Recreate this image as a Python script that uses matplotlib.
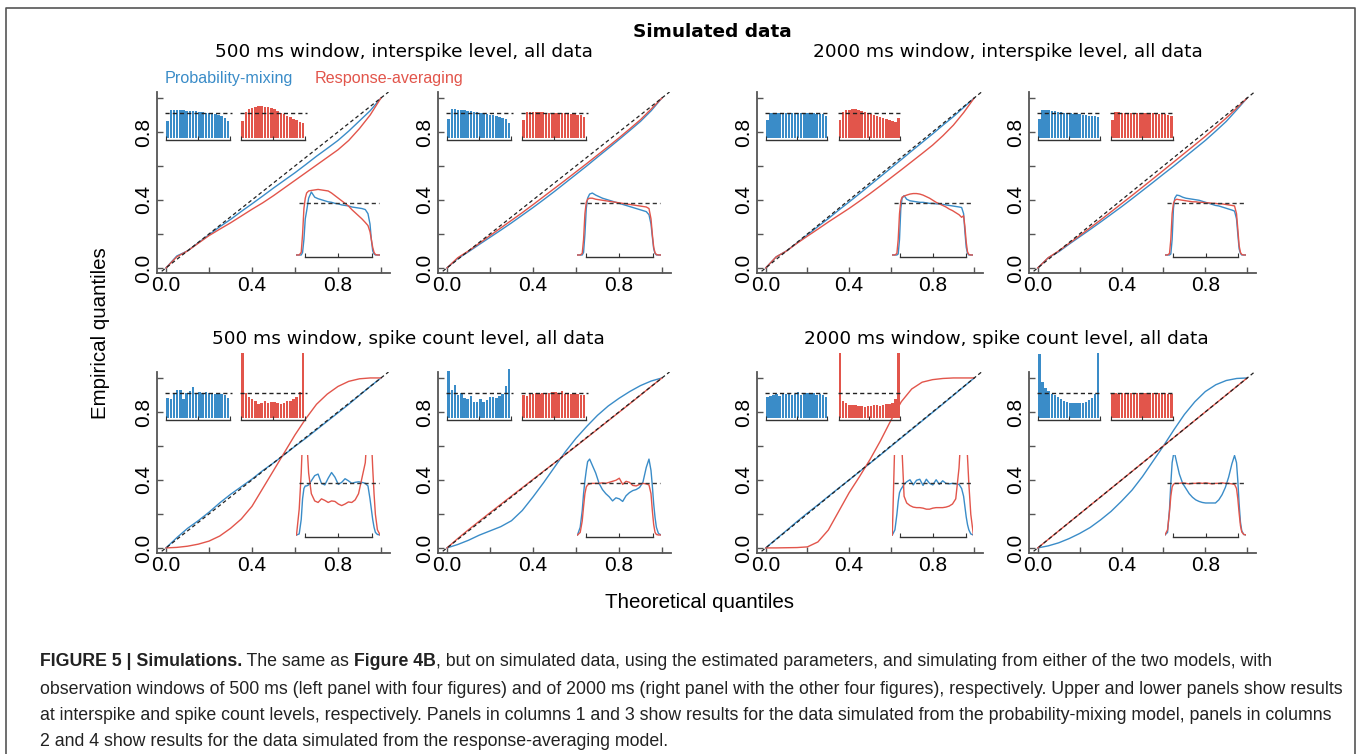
import matplotlib
matplotlib.use('Agg')
import matplotlib.pyplot as plt
from matplotlib.lines import Line2D

plt.rcParams['font.family'] = ['Liberation Sans', 'DejaVu Sans']

W, H = 1360, 754
BLUE = '#3a8cc8'
RED = '#e2554b'

# ---------------- data ----------------
qq_x = [0.0, 0.05, 0.1, 0.15, 0.2, 0.25, 0.3, 0.35, 0.4, 0.45, 0.5,
        0.55, 0.6, 0.65, 0.7, 0.75, 0.8, 0.85, 0.9, 0.95, 1.0]
tick_major = [0.0, 0.4, 0.8]
tick_labels = ['0.0', '0.4', '0.8']
tick_minor = [0.2, 0.6, 1.0]

blue_qq_1 = [0, 0.07, 0.1, 0.148, 0.195, 0.242, 0.285, 0.332, 0.377, 0.423, 0.47, 0.515, 0.56, 0.608, 0.657, 0.703, 0.75, 0.805, 0.865, 0.925, 1.0]
red_qq_1 = [0, 0.065, 0.1, 0.145, 0.19, 0.228, 0.265, 0.305, 0.345, 0.383, 0.425, 0.47, 0.515, 0.56, 0.605, 0.65, 0.695, 0.75, 0.82, 0.9, 1.0]
blue_qq_2 = [0, 0.055, 0.095, 0.138, 0.18, 0.222, 0.265, 0.31, 0.355, 0.402, 0.45, 0.5, 0.55, 0.6, 0.652, 0.703, 0.755, 0.808, 0.862, 0.925, 1.0]
red_qq_2 = [0, 0.06, 0.1, 0.145, 0.19, 0.235, 0.28, 0.325, 0.372, 0.42, 0.468, 0.516, 0.565, 0.614, 0.664, 0.714, 0.765, 0.818, 0.872, 0.935, 1.0]
blue_qq_3 = [0, 0.065, 0.1, 0.147, 0.195, 0.243, 0.29, 0.34, 0.388, 0.437, 0.487, 0.537, 0.587, 0.637, 0.688, 0.738, 0.788, 0.84, 0.89, 0.945, 1.0]
red_qq_3 = [0, 0.065, 0.1, 0.145, 0.187, 0.228, 0.27, 0.31, 0.35, 0.393, 0.437, 0.483, 0.53, 0.577, 0.625, 0.673, 0.722, 0.778, 0.84, 0.915, 1.0]
blue_qq_4 = [0, 0.06, 0.095, 0.14, 0.183, 0.226, 0.27, 0.315, 0.36, 0.407, 0.455, 0.503, 0.552, 0.6, 0.65, 0.7, 0.75, 0.805, 0.862, 0.93, 1.0]
red_qq_4 = [0, 0.06, 0.1, 0.145, 0.19, 0.236, 0.282, 0.33, 0.378, 0.426, 0.475, 0.524, 0.574, 0.624, 0.674, 0.724, 0.774, 0.828, 0.882, 0.94, 1.0]
blue_qq_5 = [0, 0.06, 0.115, 0.16, 0.21, 0.265, 0.315, 0.36, 0.405, 0.455, 0.5, 0.548, 0.598, 0.645, 0.695, 0.745, 0.795, 0.845, 0.898, 0.95, 1.0]
red_qq_5 = [0, 0.003, 0.01, 0.022, 0.04, 0.07, 0.115, 0.17, 0.245, 0.35, 0.455, 0.56, 0.665, 0.76, 0.845, 0.905, 0.95, 0.98, 0.995, 1.0, 1.0]
blue_qq_6 = [0, 0.02, 0.045, 0.075, 0.1, 0.125, 0.16, 0.22, 0.3, 0.385, 0.475, 0.565, 0.645, 0.715, 0.78, 0.835, 0.88, 0.92, 0.955, 0.982, 1.0]
red_qq_6 = [0, 0.055, 0.107, 0.157, 0.207, 0.256, 0.305, 0.354, 0.403, 0.452, 0.5, 0.549, 0.598, 0.648, 0.698, 0.748, 0.798, 0.848, 0.899, 0.95, 1.0]
blue_qq_7 = [0, 0.052, 0.103, 0.155, 0.205, 0.253, 0.303, 0.352, 0.4, 0.449, 0.498, 0.547, 0.597, 0.647, 0.697, 0.747, 0.797, 0.847, 0.898, 0.949, 1.0]
red_qq_7 = [0, 0.0, 0.001, 0.002, 0.006, 0.035, 0.105, 0.215, 0.325, 0.42, 0.52, 0.63, 0.75, 0.86, 0.935, 0.975, 0.99, 0.997, 1.0, 1.0, 1.0]
blue_qq_8 = [0, 0.012, 0.03, 0.055, 0.085, 0.12, 0.165, 0.215, 0.275, 0.34, 0.42, 0.51, 0.6, 0.695, 0.785, 0.86, 0.92, 0.96, 0.985, 0.997, 1.0]
red_qq_8 = [0, 0.05, 0.1, 0.15, 0.2, 0.25, 0.3, 0.35, 0.4, 0.45, 0.5, 0.55, 0.6, 0.65, 0.7, 0.75, 0.8, 0.85, 0.9, 0.95, 1.0]

blue_hist_1 = [0.68, 1.13, 1.13, 1.12, 1.11, 1.10, 1.09, 1.08, 1.07, 1.06, 1.04, 1.02, 1.0, 0.99, 0.97, 0.94, 0.91, 0.87, 0.80, 0.66]
red_hist_1 = [0.68, 1.05, 1.15, 1.2, 1.24, 1.26, 1.26, 1.25, 1.23, 1.2, 1.15, 1.08, 1.0, 0.94, 0.88, 0.82, 0.76, 0.7, 0.62, 0.6]
blue_hist_2 = [0.75, 1.15, 1.15, 1.13, 1.12, 1.1, 1.08, 1.06, 1.04, 1.02, 1.0, 0.98, 0.95, 0.92, 0.9, 0.87, 0.83, 0.8, 0.75, 0.6]
red_hist_2 = [0.72, 1.05, 1.04, 1.03, 1.03, 1.02, 1.02, 1.01, 1.01, 1.0, 1.0, 0.99, 0.99, 0.98, 0.97, 0.96, 0.95, 0.93, 0.9, 0.85]
blue_hist_3 = [0.7, 1.0, 1.01, 1.0, 1.0, 1.0, 1.0, 0.99, 1.0, 0.99, 0.99, 0.99, 0.98, 0.99, 0.98, 0.98, 0.97, 0.97, 0.94, 0.88]
red_hist_3 = [0.7, 1.05, 1.1, 1.13, 1.14, 1.14, 1.12, 1.09, 1.05, 1.0, 0.97, 0.93, 0.88, 0.84, 0.8, 0.76, 0.72, 0.68, 0.62, 0.78]
blue_hist_4 = [0.75, 1.12, 1.12, 1.1, 1.08, 1.06, 1.04, 1.03, 1.01, 1.0, 0.98, 0.97, 0.95, 0.94, 0.92, 0.9, 0.89, 0.87, 0.86, 0.85]
red_hist_4 = [0.72, 1.02, 1.02, 1.01, 1.01, 1.0, 1.0, 1.0, 1.0, 1.0, 0.99, 0.99, 0.98, 0.98, 0.97, 0.96, 0.95, 0.94, 0.92, 0.88]
blue_hist_5 = [0.81, 0.74, 0.94, 1.13, 1.13, 0.74, 1.0, 1.06, 1.22, 0.94, 1.04, 1.0, 1.03, 1.0, 0.97, 0.97, 0.96, 0.94, 0.91, 0.81]
red_hist_5 = [3.2, 1.0, 0.84, 0.74, 0.68, 0.55, 0.61, 0.68, 0.58, 0.64, 0.64, 0.61, 0.55, 0.61, 0.68, 0.68, 0.74, 0.84, 1.04, 3.4]
blue_hist_6 = [1.88, 1.13, 1.32, 0.9, 1.0, 0.81, 0.74, 0.87, 0.64, 0.64, 0.74, 0.64, 0.71, 0.83, 0.83, 0.81, 0.87, 0.94, 1.26, 1.95]
red_hist_6 = [0.9, 0.88, 0.95, 0.97, 0.98, 0.97, 0.98, 0.97, 1.0, 1.02, 1.05, 0.98, 1.08, 0.97, 1.0, 0.96, 0.98, 0.95, 0.93, 0.92]
blue_hist_7 = [0.83, 0.88, 0.92, 0.95, 0.88, 1.0, 0.95, 1.0, 0.9, 0.96, 1.02, 0.93, 0.98, 1.0, 0.96, 0.98, 0.93, 0.95, 0.9, 0.85]
red_hist_7 = [3.3, 0.68, 0.58, 0.52, 0.5, 0.5, 0.48, 0.48, 0.45, 0.48, 0.48, 0.5, 0.5, 0.48, 0.52, 0.55, 0.57, 0.61, 0.77, 3.3]
blue_hist_8 = [2.55, 1.42, 1.2, 1.06, 0.96, 0.9, 0.83, 0.74, 0.68, 0.64, 0.58, 0.61, 0.58, 0.61, 0.61, 0.64, 0.7, 0.78, 0.94, 3.0]
red_hist_8 = [0.95, 0.98, 0.97, 0.98, 1.0, 0.98, 0.99, 1.0, 0.98, 1.0, 0.99, 1.0, 0.98, 1.0, 1.0, 0.99, 0.98, 1.0, 0.97, 0.95]

dens_x = [-0.12, -0.08, -0.05, -0.03, -0.01, 0.01, 0.03, 0.06, 0.1, 0.15, 0.2, 0.25, 0.3, 0.35, 0.4, 0.45,
          0.5, 0.55, 0.6, 0.65, 0.7, 0.75, 0.8, 0.85, 0.9, 0.94, 0.97, 0.99, 1.01, 1.03, 1.05, 1.08, 1.12]

blue_dens_1 = [0, 0, 0, 0.05, 0.3, 0.7, 0.85, 1.1, 1.22, 1.12, 1.09, 1.07, 1.05, 1.03, 1.02, 1.0, 0.99, 0.97, 0.96, 0.95, 0.93, 0.92, 0.91, 0.9, 0.88, 0.8, 0.6, 0.3, 0.08, 0.02, 0, 0, 0]
red_dens_1 = [0, 0, 0.05, 0.4, 0.9, 1.1, 1.2, 1.24, 1.25, 1.26, 1.27, 1.26, 1.25, 1.24, 1.2, 1.15, 1.1, 1.05, 1.0, 0.95, 0.88, 0.82, 0.76, 0.7, 0.63, 0.57, 0.45, 0.3, 0.15, 0.05, 0.01, 0, 0]
blue_dens_2 = [0, 0, 0, 0.05, 0.4, 0.9, 1.1, 1.18, 1.2, 1.16, 1.13, 1.1, 1.08, 1.06, 1.04, 1.02, 1.0, 0.98, 0.96, 0.94, 0.92, 0.9, 0.88, 0.86, 0.84, 0.78, 0.6, 0.35, 0.12, 0.03, 0, 0, 0]
red_dens_2 = [0, 0, 0.03, 0.3, 0.8, 1.02, 1.08, 1.1, 1.1, 1.08, 1.07, 1.06, 1.05, 1.04, 1.03, 1.02, 1.01, 1.0, 0.99, 0.98, 0.97, 0.96, 0.95, 0.94, 0.93, 0.9, 0.7, 0.4, 0.15, 0.04, 0.01, 0, 0]
blue_dens_3 = [0, 0, 0, 0.02, 0.3, 0.9, 1.1, 1.15, 1.08, 1.05, 1.04, 1.03, 1.02, 1.02, 1.01, 1.0, 1.0, 0.99, 0.99, 0.98, 0.97, 0.96, 0.95, 0.94, 0.93, 0.92, 0.8, 0.45, 0.15, 0.03, 0, 0, 0]
red_dens_3 = [0, 0, 0.03, 0.3, 0.8, 1.05, 1.12, 1.14, 1.16, 1.18, 1.19, 1.19, 1.18, 1.16, 1.13, 1.1, 1.06, 1.02, 0.99, 0.96, 0.93, 0.89, 0.86, 0.82, 0.78, 0.73, 0.76, 0.55, 0.25, 0.06, 0.01, 0, 0]
blue_dens_4 = [0, 0, 0, 0.02, 0.3, 0.9, 1.1, 1.16, 1.15, 1.12, 1.1, 1.09, 1.08, 1.07, 1.06, 1.04, 1.02, 1.0, 0.98, 0.96, 0.95, 0.93, 0.91, 0.89, 0.87, 0.85, 0.7, 0.4, 0.12, 0.03, 0, 0, 0]
red_dens_4 = [0, 0, 0.03, 0.3, 0.8, 1.0, 1.06, 1.08, 1.07, 1.06, 1.05, 1.04, 1.03, 1.03, 1.02, 1.02, 1.01, 1.01, 1.0, 1.0, 0.99, 0.99, 0.98, 0.97, 0.96, 0.95, 0.8, 0.5, 0.18, 0.05, 0.01, 0, 0]
blue_dens_5 = [0, 0.02, 0.3, 0.7, 0.9, 0.95, 0.95, 0.97, 1.05, 1.15, 1.18, 1.0, 0.97, 1.1, 1.21, 1.12, 0.98, 1.02, 1.09, 1.05, 1.0, 1.02, 1.03, 1.02, 1.0, 0.95, 0.7, 0.5, 0.3, 0.15, 0.05, 0.01, 0]
red_dens_5 = [0, 0.5, 1.2, 1.9, 2.3, 2.3, 1.9, 1.2, 0.8, 0.66, 0.63, 0.7, 0.67, 0.63, 0.66, 0.65, 0.6, 0.57, 0.6, 0.64, 0.63, 0.68, 0.8, 1.1, 1.4, 2.2, 2.4, 1.9, 1.3, 0.8, 0.4, 0.1, 0]
blue_dens_6 = [0, 0.15, 0.47, 0.8, 1.05, 1.25, 1.42, 1.47, 1.35, 1.2, 1.0, 0.88, 0.8, 0.74, 0.66, 0.72, 0.7, 0.65, 0.76, 0.82, 0.86, 0.88, 0.92, 1.02, 1.31, 1.47, 1.25, 0.95, 0.6, 0.34, 0.15, 0.03, 0]
red_dens_6 = [0, 0.05, 0.27, 0.55, 0.8, 0.93, 0.97, 0.99, 1.0, 1.0, 1.0, 1.01, 1.0, 1.02, 1.04, 1.06, 1.1, 0.98, 1.04, 1.02, 0.96, 0.95, 0.98, 1.0, 0.99, 0.97, 0.8, 0.47, 0.2, 0.05, 0.01, 0, 0]
blue_dens_7 = [0, 0.1, 0.4, 0.65, 0.82, 0.88, 0.92, 0.98, 1.03, 1.07, 0.97, 1.06, 1.08, 0.96, 1.08, 1.0, 0.97, 1.07, 0.98, 1.05, 1.0, 0.99, 1.0, 0.99, 0.98, 0.9, 0.75, 0.55, 0.35, 0.2, 0.1, 0.02, 0]
red_dens_7 = [0, 1.9, 2.5, 2.6, 2.4, 2.0, 1.6, 0.75, 0.62, 0.57, 0.54, 0.53, 0.53, 0.52, 0.5, 0.5, 0.52, 0.53, 0.53, 0.53, 0.54, 0.56, 0.6, 0.7, 1.3, 2.2, 2.6, 2.5, 2.0, 1.5, 1.0, 0.4, 0]
blue_dens_8 = [0, 0.05, 0.5, 1.0, 1.4, 1.55, 1.57, 1.4, 1.18, 1.0, 0.9, 0.8, 0.73, 0.68, 0.65, 0.63, 0.62, 0.62, 0.62, 0.62, 0.68, 0.78, 0.92, 1.12, 1.38, 1.54, 1.4, 1.05, 0.6, 0.25, 0.08, 0.01, 0]
red_dens_8 = [0, 0.1, 0.45, 0.75, 0.93, 0.98, 1.0, 1.0, 1.0, 1.01, 1.0, 0.99, 1.0, 1.0, 1.01, 1.0, 1.01, 1.0, 0.99, 1.0, 1.0, 1.01, 1.0, 1.0, 0.99, 0.98, 0.9, 0.7, 0.42, 0.18, 0.06, 0.01, 0]

subtitles = ['500 ms window, interspike level, all data',
             '2000 ms window, interspike level, all data',
             '500 ms window, spike count level, all data',
             '2000 ms window, spike count level, all data']

# ------------- layout (pixels) -------------
panel_left = [157, 438, 757, 1029]
panel_width = [233, 233, 226, 227]
row_top = [92, 372]
row_bottom = [273, 553]

blue_qq = [blue_qq_1, blue_qq_2, blue_qq_3, blue_qq_4, blue_qq_5, blue_qq_6, blue_qq_7, blue_qq_8]
red_qq = [red_qq_1, red_qq_2, red_qq_3, red_qq_4, red_qq_5, red_qq_6, red_qq_7, red_qq_8]
blue_hist = [blue_hist_1, blue_hist_2, blue_hist_3, blue_hist_4, blue_hist_5, blue_hist_6, blue_hist_7, blue_hist_8]
red_hist = [red_hist_1, red_hist_2, red_hist_3, red_hist_4, red_hist_5, red_hist_6, red_hist_7, red_hist_8]
blue_dens = [blue_dens_1, blue_dens_2, blue_dens_3, blue_dens_4, blue_dens_5, blue_dens_6, blue_dens_7, blue_dens_8]
red_dens = [red_dens_1, red_dens_2, red_dens_3, red_dens_4, red_dens_5, red_dens_6, red_dens_7, red_dens_8]

fig = plt.figure(figsize=(W / 100, H / 100), dpi=100)

SPINE = '#555555'
DASH = (0, (3, 2.2))


def rect(left, top, width, height):
    return [left / W, 1 - (top + height) / H, width / W, height / H]


def hist_inset(ax, x0, vals, color):
    ia = ax.inset_axes([x0, 0.753, 0.296, 0.394], transform=ax.transData)
    ia.set_xlim(0, 1)
    ia.set_ylim(-0.08, 2.6)
    n = len(vals)
    centers = [(i + 0.5) / n for i in range(n)]
    ia.bar(centers, vals, width=0.78 / n, color=color, linewidth=0)
    ia.plot([-0.01, 1.04], [1, 1], ls=DASH, color='#222222', lw=1.0, clip_on=False)
    for s in ['top', 'right', 'left']:
        ia.spines[s].set_visible(False)
    ia.spines['bottom'].set_color('#333333')
    ia.spines['bottom'].set_linewidth(1.0)
    ia.set_xticks([0, 0.5, 1])
    ia.set_yticks([])
    ia.tick_params(axis='x', direction='in', length=3, width=0.8, color='#333333', labelbottom=False)
    ia.patch.set_visible(False)


def dens_inset(ax, yb, yr):
    ia = ax.inset_axes([0.607, 0.0608, 0.389, 0.486], transform=ax.transData)
    ia.set_xlim(-0.12, 1.12)
    ia.set_ylim(-0.05, 1.55)
    ia.plot(dens_x, yb, color=BLUE, lw=1.0)
    ia.plot(dens_x, yr, color=RED, lw=1.0)
    ia.plot([-0.09, 1.1], [1, 1], ls=DASH, color='#333333', lw=1.0)
    for s in ['top', 'right', 'left']:
        ia.spines[s].set_visible(False)
    ia.spines['bottom'].set_position(('data', -0.036))
    ia.spines['bottom'].set_bounds(0, 1)
    ia.spines['bottom'].set_color('#333333')
    ia.spines['bottom'].set_linewidth(1.0)
    ia.set_xticks([0, 0.5, 1])
    ia.set_yticks([])
    ia.tick_params(axis='x', direction='in', length=3, width=0.8, color='#333333', labelbottom=False)
    ia.patch.set_visible(False)


for k in range(8):
    r, c = divmod(k, 4)
    top = row_top[r]
    hgt = row_bottom[r] - row_top[r]
    ax = fig.add_axes(rect(panel_left[c], top, panel_width[c], hgt))
    ax.set_xlim(-0.042, 1.042)
    ax.set_ylim(-0.03, 1.035)
    ax.plot(qq_x, blue_qq[k], color=BLUE, lw=1.0)
    ax.plot(qq_x, red_qq[k], color=RED, lw=1.0)
    ax.plot([-0.02, 1.035], [-0.02, 1.035], ls=DASH, color='#222222', lw=0.9)
    for s in ['top', 'right']:
        ax.spines[s].set_visible(False)
    for s in ['left', 'bottom']:
        ax.spines[s].set_color(SPINE)
        ax.spines[s].set_linewidth(1.3)
    ax.set_xticks(tick_major)
    ax.set_xticklabels(tick_labels)
    ax.set_xticks(tick_minor, minor=True)
    ax.set_yticks(tick_major)
    ax.set_yticklabels(tick_labels)
    ax.set_yticks(tick_minor, minor=True)
    ax.tick_params(which='both', direction='in', length=4, width=1.0, color=SPINE, labelsize=15)
    ax.tick_params(axis='x', pad=2)
    ax.tick_params(axis='y', pad=3, labelrotation=90)
    for lab in ax.get_yticklabels():
        lab.set_va('center')
    ax.patch.set_visible(False)
    hist_inset(ax, 0.0, blue_hist[k], BLUE)
    hist_inset(ax, 0.349, red_hist[k], RED)
    dens_inset(ax, blue_dens[k], red_dens[k])

# ------------- texts -------------
DV = ['DejaVu Sans']
fig.text(712 / W, 1 - 32 / H, 'Simulated data', ha='center', va='center', fontsize=13.3,
         fontweight='bold', family=DV)
sub_pos = [(404, 52), (1008, 52), (408, 339), (1006, 339)]
for (sx, sy), s in zip(sub_pos, subtitles):
    fig.text(sx / W, 1 - sy / H, s, ha='center', va='center', fontsize=13.3, family=DV)

fig.text(165 / W, 1 - 79 / H, 'Probability-mixing', ha='left', va='center', fontsize=11.6, color=BLUE)
fig.text(315 / W, 1 - 79 / H, 'Response-averaging', ha='left', va='center', fontsize=11.6, color=RED)

fig.text(100 / W, 1 - 333 / H, 'Empirical quantiles', rotation=90, ha='center', va='center', fontsize=14.8)
fig.text(700 / W, 1 - 602 / H, 'Theoretical quantiles', ha='center', va='center', fontsize=14.8)

# border
fig.add_artist(Line2D([6 / W, 6 / W, 1355 / W, 1355 / W], [0, 1 - 8 / H, 1 - 8 / H, 0],
                      transform=fig.transFigure, color='#555555', lw=1.2))

# caption
CAP = '#222222'
cap_lines = [
    [('FIGURE 5 | Simulations.', 'bold'), (' The same as ', 'normal'), ('Figure 4B', 'bold'),
     (', but on simulated data, using the estimated parameters, and simulating from either of the two models, with', 'normal')],
    [('observation windows of 500 ms (left panel with four figures) and of 2000 ms (right panel with the other four figures), respectively. Upper and lower panels show results', 'normal')],
    [('at interspike and spike count levels, respectively. Panels in columns 1 and 3 show results for the data simulated from the probability-mixing model, panels in columns', 'normal')],
    [('2 and 4 show results for the data simulated from the response-averaging model.', 'normal')],
]
cap_y = [661, 689, 716, 742]
renderer = fig.canvas.get_renderer()
for pieces, yy in zip(cap_lines, cap_y):
    xx = 40 / W
    for txt, wt in pieces:
        t = fig.text(xx, 1 - yy / H, txt, ha='left', va='center', fontsize=12.8, fontweight=wt, color=CAP)
        bb = t.get_window_extent(renderer)
        xx = bb.x1 / W

fig.savefig('out.png', dpi=100)
